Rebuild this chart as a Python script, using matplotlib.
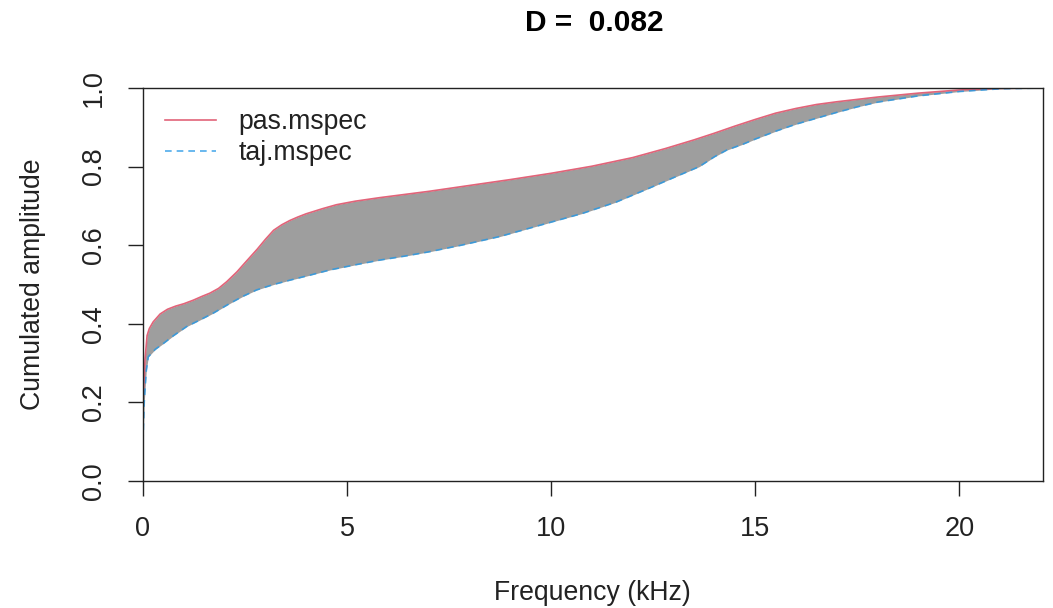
import numpy as np
import matplotlib.pyplot as plt

plt.rcParams['font.family'] = ['Liberation Sans', 'DejaVu Sans']

# cumulated spectra (frequency in kHz)
pas_freq = [0.0, 0.05, 0.1, 0.155, 0.25, 0.42, 0.6, 0.8, 1.0, 1.23, 1.45, 1.64, 1.85, 2.05,
            2.3, 2.54, 2.8, 3.0, 3.2, 3.4, 3.6, 3.8, 4.0, 4.4, 4.74, 5.2, 5.8, 6.4, 7.0, 8.0,
            9.0, 10.0, 11.0, 12.0, 12.8, 13.5, 14.0, 14.5, 15.0, 15.5, 16.0, 16.5, 17.0,
            17.5, 18.0, 19.0, 20.0, 21.0, 22.05]
pas_amp = [0.20, 0.31, 0.37, 0.388, 0.405, 0.425, 0.437, 0.445, 0.451, 0.460, 0.470, 0.478,
           0.490, 0.507, 0.532, 0.560, 0.590, 0.615, 0.638, 0.652, 0.663, 0.672, 0.680, 0.693,
           0.703, 0.712, 0.721, 0.729, 0.737, 0.752, 0.767, 0.783, 0.801, 0.823, 0.846, 0.868,
           0.885, 0.903, 0.920, 0.936, 0.948, 0.958, 0.965, 0.971, 0.977, 0.987, 0.995, 0.999,
           1.0]

taj_freq = [0.0, 0.03, 0.08, 0.13, 0.3, 0.5, 0.75, 1.07, 1.4, 1.72, 2.13, 2.45, 2.78, 3.2,
            3.6, 4.1, 4.58, 5.2, 5.8, 6.4, 7.0, 7.8, 8.74, 9.7, 10.77, 11.6, 12.4, 13.0, 13.63,
            14.0, 14.3, 14.7, 15.0, 15.5, 16.0, 16.5, 17.0, 17.5, 18.0, 19.0, 20.0, 21.0, 22.05]
taj_amp = [0.10, 0.20, 0.28, 0.316, 0.335, 0.350, 0.370, 0.393, 0.410, 0.427, 0.452, 0.470,
           0.486, 0.500, 0.511, 0.524, 0.537, 0.550, 0.562, 0.572, 0.583, 0.600, 0.622, 0.650,
           0.681, 0.710, 0.745, 0.772, 0.800, 0.825, 0.842, 0.857, 0.870, 0.890, 0.908, 0.923,
           0.938, 0.952, 0.964, 0.980, 0.991, 0.998, 1.0]

D_value = 0.082

W, H = 1053, 608
fig = plt.figure(figsize=(W / 100, H / 100), dpi=100)
ax = fig.add_axes([143 / W, 1 - 481 / H, 900 / W, 393 / H])

# common grid so the band between the two curves can be filled
grid = np.union1d(pas_freq, taj_freq)
pas_g = np.interp(grid, pas_freq, pas_amp)
taj_g = np.interp(grid, taj_freq, taj_amp)
ax.fill_between(grid, taj_g, pas_g, color='#9E9E9E', lw=0)

ax.plot(pas_freq, pas_amp, color='#DF536B', lw=1.2, alpha=0.9, label='pas.mspec')
ax.plot(taj_freq, taj_amp, color='#2297E6', lw=1.2, ls=(0, (4, 3)), alpha=0.8,
        label='taj.mspec')

ax.set_xlim(0, 22.05)
ax.set_ylim(0, 1)
ax.set_xticks([0, 5, 10, 15, 20])
ax.set_yticks([0.0, 0.2, 0.4, 0.6, 0.8, 1.0])
ax.set_yticklabels(['0.0', '0.2', '0.4', '0.6', '0.8', '1.0'], rotation=90, va='center')
ax.tick_params(direction='out', length=11, width=1, labelsize=19.5, colors='#222222')
ax.tick_params(axis='x', pad=14)
ax.tick_params(axis='y', pad=15)
for s in ax.spines.values():
    s.set_linewidth(1)
    s.set_color('#222222')

fig.text(592 / W, 1 - 593 / H, 'Frequency (kHz)', fontsize=19.2, ha='center', va='center',
         color='#222222')
fig.text(33 / W, 1 - 284 / H, 'Cumulated amplitude', fontsize=19.2, ha='center',
         va='center', rotation=90, color='#222222')
fig.text(594 / W, 1 - 23 / H, 'D =  ' + str(D_value), fontsize=21.5, fontweight='bold',
         ha='center', va='center')

leg = ax.legend(loc='upper left', bbox_to_anchor=(22 / 900, 1 - 21 / 393), frameon=False,
                fontsize=19.2, handlelength=1.9, handletextpad=0.85, borderaxespad=0,
                borderpad=0, labelspacing=0.2)
for t in leg.get_texts():
    t.set_color('#222222')

fig.savefig('out.png', dpi=100)
